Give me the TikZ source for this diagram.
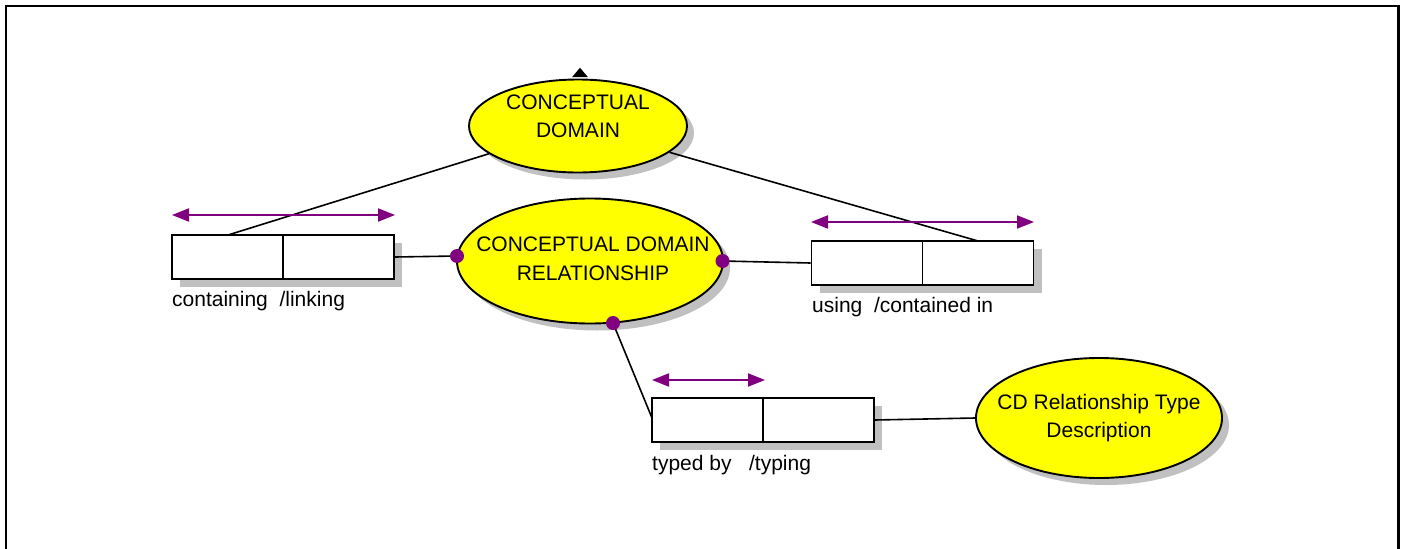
\documentclass[tikz,border=0pt]{standalone}
\usepackage{fontspec}
\setmainfont{Liberation Sans}
\usetikzlibrary{shapes.geometric,arrows.meta,shadows}
\definecolor{entfill}{RGB}{255,255,0}
\definecolor{rolepurple}{RGB}{128,0,128}
\definecolor{shadowgray}{RGB}{192,192,192}
\begin{document}
\begin{tikzpicture}[x=1pt,y=-1pt,
  txt/.style={font=\fontsize{21}{28.5}\selectfont, align=center, inner sep=0pt},
  entity/.style={ellipse, draw, line width=1.9pt, fill=entfill, inner sep=0pt,
    drop shadow={shadow xshift=7pt, shadow yshift=-7pt, fill=shadowgray, opacity=1}},
  rolebox/.style={rectangle, draw, line width=1.9pt, fill=white, inner sep=0pt,
    minimum width=111pt, minimum height=44pt,
    drop shadow={shadow xshift=8pt, shadow yshift=-8pt, fill=shadowgray, opacity=1}},
  link/.style={line width=1.6pt},
  roledot/.style={circle, fill=rolepurple, inner sep=0pt, minimum size=14pt},
  span/.style={draw=rolepurple, line width=2pt,
    {Triangle[length=17pt,width=13pt]}-{Triangle[length=17pt,width=13pt]}},
  lbl/.style={font=\fontsize{21}{29}\selectfont, inner sep=0pt, anchor=base west}
]
\useasboundingbox (0,0) rectangle (1401,549);

% outer frame, open at the bottom
\draw[line width=2.4pt] (6,549) -- (6,6) -- (1398.5,6) -- (1398.5,549);

% entities
\node[entity, minimum width=218pt, minimum height=93pt] (cd) at (578,126) {};
\node[txt] (cdtext) at (578,116.5) {CONCEPTUAL\\DOMAIN};
\node[fill=black, isosceles triangle, isosceles triangle apex angle=80, shape border rotate=90,
      inner sep=0pt, minimum width=16pt, minimum height=7pt] (cdmark) at (580,73.5) {};

\node[entity, minimum width=266pt, minimum height=125pt] (cdr) at (590,261) {};
\node[txt] (cdrtext) at (593,259) {CONCEPTUAL DOMAIN\\RELATIONSHIP};

\node[entity, minimum width=246pt, minimum height=120pt] (cdt) at (1099,418) {};
\node[txt] (cdttext) at (1099,418) {CD Relationship Type\\Description};

% role boxes
\node[rolebox] (la) at (227.5,257) {};
\node[rolebox] (lb) at (338.5,257) {};
\node[rolebox] (ra) at (867,263) {};
\node[rolebox] (rb) at (978,263) {};
\node[rolebox] (ba) at (707.5,420) {};
\node[rolebox] (bb) at (818.5,420) {};

% role labels
\node[lbl] (llab) at (172,306) {containing\ \ /linking};
\node[lbl] (rlab) at (812,312) {using\ \ /contained in};
\node[lbl] (blab) at (652,470) {typed by\ \ \ /typing};

% attachment points on the box tops and sides
\coordinate (lq) at (228,235);
\coordinate (rq) at (978,241);
\coordinate (bq) at (652,418);

% role dots on the relationship entity
\coordinate (dlc) at (457,256);
\coordinate (drc) at (722.5,261);
\coordinate (dbc) at (613,323);

% connectors
\draw[link] (lq) -- (cd);
\draw[link] (rq) -- (cd);
\draw[link] (lb.east) -- (dlc);
\draw[link] (drc) -- (ra.west);
\draw[link] (dbc) -- (bq);
\draw[link] (bb.east) -- (cdt.west);
\node[roledot] (dl) at (dlc) {};
\node[roledot] (dr) at (drc) {};
\node[roledot] (db) at (dbc) {};

% span arrows above the role boxes
\coordinate (l1) at (172,215); \coordinate (l2) at (395,215);
\coordinate (r1) at (811,222); \coordinate (r2) at (1034,222);
\coordinate (b1) at (652,380); \coordinate (b2) at (765,380);
\draw[span] (l1) -- (l2);
\draw[span] (r1) -- (r2);
\draw[span] (b1) -- (b2);
\end{tikzpicture}
\end{document}
